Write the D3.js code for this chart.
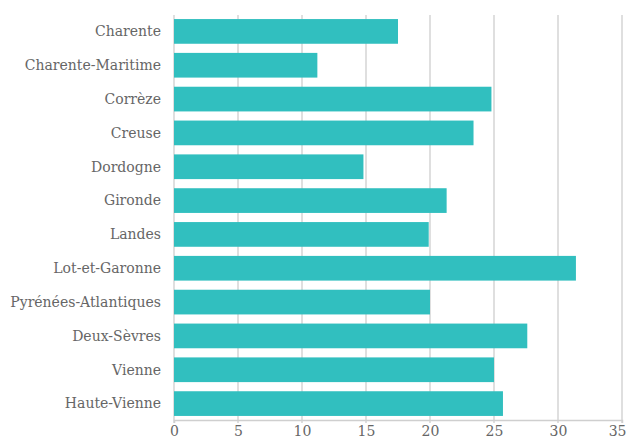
<!DOCTYPE html>
<html>
<head>
<meta charset="utf-8">
<script src="https://cdn.jsdelivr.net/npm/d3@7"></script>
<style>
  body { margin: 0; background: #fff; }
</style>
</head>
<body>
<div id="chart"></div>
<script>
// Data
const departments = ["Charente", "Charente-Maritime", "Corrèze", "Creuse", "Dordogne", "Gironde",
    "Landes", "Lot-et-Garonne", "Pyrénées-Atlantiques", "Deux-Sèvres", "Vienne", "Haute-Vienne"];
const values = [17.5, 11.2, 24.8, 23.4, 14.8, 21.3, 19.9, 31.4, 20.0, 27.6, 25.0, 25.7];
const xTicks = [0, 5, 10, 15, 20, 25, 30, 35];

const fontFamily = "'DejaVu Serif', serif";

const margin = {top: 15, right: 4, bottom: 21, left: 174};
const width = 626 - margin.left - margin.right;
const height = 441 - margin.top - margin.bottom;

const svg = d3.select("#chart")
    .append("svg")
    .attr("width", 626)
    .attr("height", 441)
    .append("g")
    .attr("transform", `translate(${margin.left},${margin.top})`);

const x = d3.scaleLinear()
    .domain([0, 35])
    .range([0, 448]);

const y = d3.scaleBand()
    .domain(departments)
    .range([0, height])
    .paddingInner(0.27)
    .paddingOuter(0.12);

// Vertical gridlines
svg.selectAll("line.grid")
    .data(xTicks)
    .enter()
    .append("line")
    .attr("class", "grid")
    .attr("x1", d => x(d))
    .attr("x2", d => x(d))
    .attr("y1", 0)
    .attr("y2", height + 3)
    .attr("stroke", "#d4d4d4")
    .attr("stroke-width", 1.5);

// Bars
svg.selectAll("rect.bar")
    .data(departments)
    .enter()
    .append("rect")
    .attr("class", "bar")
    .attr("x", x(0))
    .attr("y", d => y(d))
    .attr("width", (d, i) => x(values[i]) - x(0))
    .attr("height", y.bandwidth())
    .attr("fill", "#31bfbf");

// Bottom axis
const xAxis = svg.append("g")
    .attr("transform", `translate(0,${height})`)
    .call(d3.axisBottom(x).tickValues(xTicks).tickSize(3).tickPadding(3));
xAxis.select(".domain").attr("stroke", "#cfcfcf").attr("stroke-width", 1.5);
xAxis.selectAll(".tick line").remove();
xAxis.selectAll("text")
    .attr("fill", "#666")
    .style("font-family", fontFamily)
    .style("font-size", "14px");
// last label sits against the right edge
xAxis.selectAll(".tick text").filter(d => d === 35)
    .attr("text-anchor", "end")
    .attr("dx", 4);

// Category labels
svg.selectAll("text.label")
    .data(departments)
    .enter()
    .append("text")
    .attr("class", "label")
    .attr("x", -13)
    .attr("y", d => y(d) + y.bandwidth() / 2)
    .attr("dy", "0.35em")
    .attr("text-anchor", "end")
    .attr("fill", "#666")
    .style("font-family", fontFamily)
    .style("font-size", "14px")
    .text(d => d);
</script>
</body>
</html>
